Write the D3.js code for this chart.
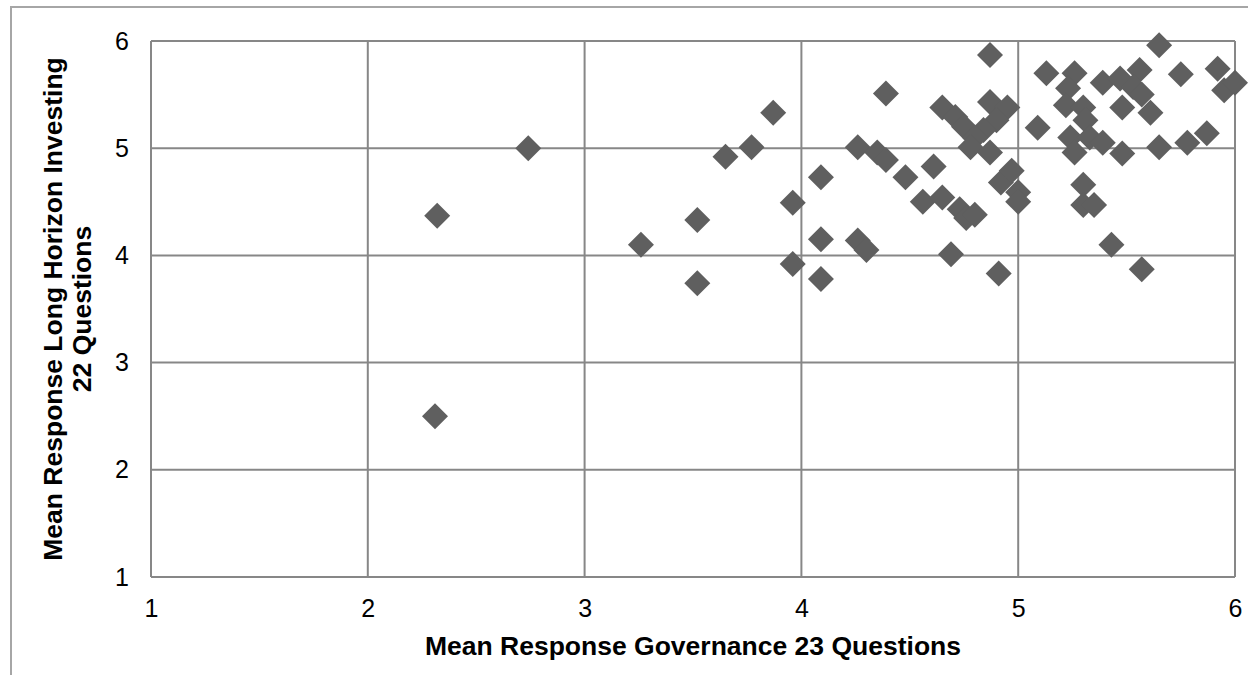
<!DOCTYPE html>
<html>
<head>
<meta charset="utf-8">
<script src="https://cdn.jsdelivr.net/npm/d3@7/dist/d3.min.js"></script>
<style>
  html, body { margin: 0; padding: 0; background: #fff; }
  svg { display: block; font-family: "Liberation Sans", Arial, sans-serif; }
</style>
</head>
<body>
<svg id="chart"></svg>
<script>
// Mean response per respondent: governance (x) vs long horizon investing (y)
const governance = [
  2.32, 2.31, 2.74, 3.26, 3.52, 3.52, 3.65, 3.77, 3.87, 3.96,
  3.96, 4.09, 4.09, 4.09, 4.26, 4.26, 4.30, 4.39, 4.35, 4.39,
  4.48, 4.61, 4.56, 4.65, 4.73, 4.76, 4.80, 4.69, 4.91, 4.87,
  4.65, 4.71, 4.75, 4.87, 4.95, 4.90, 4.84, 4.80, 4.78, 4.87,
  4.92, 4.97, 5.00, 5.00, 5.09, 5.13, 5.26, 5.23, 5.22, 5.30,
  5.31, 5.24, 5.26, 5.33, 5.39, 5.48, 5.30, 5.30, 5.35, 5.43,
  5.57, 5.39, 5.47, 5.56, 5.53, 5.57, 5.48, 5.61, 5.65, 5.75,
  5.92, 5.95, 6.00, 5.65, 5.78, 5.87
];
const longHorizon = [
  4.37, 2.50, 5.00, 4.10, 4.33, 3.74, 4.92, 5.01, 5.33, 4.49,
  3.92, 4.73, 4.15, 3.78, 5.01, 4.14, 4.05, 5.51, 4.96, 4.89,
  4.73, 4.83, 4.50, 4.54, 4.43, 4.35, 4.38, 4.01, 3.83, 5.87,
  5.38, 5.29, 5.20, 5.43, 5.38, 5.26, 5.17, 5.10, 5.01, 4.96,
  4.68, 4.79, 4.59, 4.50, 5.19, 5.70, 5.70, 5.56, 5.40, 5.38,
  5.26, 5.10, 4.96, 5.10, 5.05, 4.95, 4.66, 4.47, 4.47, 4.10,
  3.87, 5.61, 5.65, 5.73, 5.57, 5.50, 5.38, 5.33, 5.96, 5.69,
  5.74, 5.54, 5.61, 5.01, 5.05, 5.14
];
const xTicks = [1, 2, 3, 4, 5, 6];
const yTicks = [1, 2, 3, 4, 5, 6];
const xTitle = 'Mean Response Governance 23 Questions';
const yTitle = ['Mean Response Long Horizon Investing', '22 Questions'];

const width = 1248, height = 675;
const plot = { left: 151, top: 41, right: 1235, bottom: 577 };
const gridColor = '#878787';
const markColor = '#5f5f5f';
const tickSize = 25;
const titleSize = 26.5;

const svg = d3.select('#chart').attr('width', width).attr('height', height);

// chart frame (runs off the right and bottom edges like the original)
svg.append('rect')
  .attr('x', 11).attr('y', 7)
  .attr('width', 1400).attr('height', 900)
  .attr('fill', 'none')
  .attr('stroke', '#a6a6a6')
  .attr('stroke-width', 2);

const x = d3.scaleLinear().domain([1, 6]).range([plot.left, plot.right]);
const y = d3.scaleLinear().domain([1, 6]).range([plot.bottom, plot.top]);

// gridlines
const grid = svg.append('g').attr('class', 'grid');
grid.selectAll('line.v').data(xTicks).enter().append('line')
  .attr('x1', d => x(d)).attr('x2', d => x(d))
  .attr('y1', plot.top).attr('y2', plot.bottom)
  .attr('stroke', gridColor).attr('stroke-width', 2);
grid.selectAll('line.h').data(yTicks).enter().append('line')
  .attr('x1', plot.left).attr('x2', plot.right)
  .attr('y1', d => y(d)).attr('y2', d => y(d))
  .attr('stroke', gridColor).attr('stroke-width', 2);

// axes (labels only, lines come from the grid)
const xAxis = svg.append('g')
  .attr('transform', `translate(0,${plot.bottom})`)
  .call(d3.axisBottom(x).tickValues(xTicks).tickSize(0).tickPadding(22).tickFormat(d3.format('d')));
const yAxis = svg.append('g')
  .attr('transform', `translate(${plot.left},0)`)
  .call(d3.axisLeft(y).tickValues(yTicks).tickSize(0).tickPadding(22).tickFormat(d3.format('d')));
[xAxis, yAxis].forEach(a => {
  a.select('.domain').remove();
  a.attr('font-size', tickSize).attr('font-family', null);
  a.selectAll('text').attr('fill', '#000');
});

// diamonds
const half = 13;
svg.append('g').attr('class', 'points')
  .selectAll('path')
  .data(governance.map((g, i) => ({ gx: g, ly: longHorizon[i] })))
  .enter().append('path')
  .attr('d', d => {
    const cx = x(d.gx), cy = y(d.ly);
    return `M${cx},${cy - half}L${cx + half},${cy}L${cx},${cy + half}L${cx - half},${cy}Z`;
  })
  .attr('fill', markColor);

// axis titles
svg.append('text')
  .attr('x', (plot.left + plot.right) / 2)
  .attr('y', 655)
  .attr('text-anchor', 'middle')
  .attr('font-size', titleSize)
  .attr('font-weight', 'bold')
  .text(xTitle);

const yt = svg.append('text')
  .attr('transform', `translate(62,${(plot.top + plot.bottom) / 2}) rotate(-90)`)
  .attr('text-anchor', 'middle')
  .attr('font-size', titleSize)
  .attr('font-weight', 'bold');
yTitle.forEach((line, i) => {
  yt.append('tspan').attr('x', 0).attr('dy', i === 0 ? 0 : 29).text(line);
});
</script>
</body>
</html>
